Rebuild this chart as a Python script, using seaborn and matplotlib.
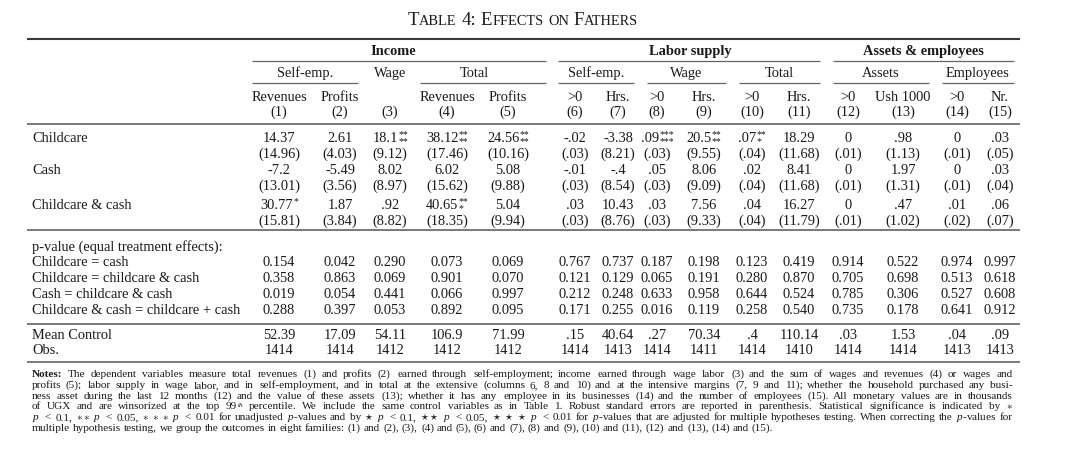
import numpy as np
import pandas as pd
import matplotlib
matplotlib.use("Agg")
import matplotlib.pyplot as plt
import seaborn as sns

# ---- table values ----
columns = ["(%d)" % i for i in range(1, 16)]
sub_headers = ["Revenues", "Profits", "", "Revenues", "Profits", ">0", "Hrs.", ">0", "Hrs.",
               ">0", "Hrs.", ">0", "Ush 1000", ">0", "Nr."]

childcare = [14.37, 2.61, 18.1, 38.12, 24.56, -.02, -3.38, .09, 20.5, .07, 18.29, 0, .98, 0, .03]
childcare_se = [14.96, 4.03, 9.12, 17.46, 10.16, .03, 8.21, .03, 9.55, .04, 11.68, .01, 1.13, .01, .05]
childcare_sup = ["", "", "**", "**", "**", "", "", "***", "**", "**", "", "", "", "", ""]
childcare_sub = ["", "", "**", "**", "**", "", "", "***", "**", "*", "", "", "", "", ""]

cash = [-7.2, -5.49, 8.02, 6.02, 5.08, -.01, -.4, .05, 8.06, .02, 8.41, 0, 1.97, 0, .03]
cash_se = [13.01, 3.56, 8.97, 15.62, 9.88, .03, 8.54, .03, 9.09, .04, 11.68, .01, 1.31, .01, .04]
cash_sup = [""] * 15
cash_sub = [""] * 15

both = [30.77, 1.87, .92, 40.65, 5.04, .03, 10.43, .03, 7.56, .04, 16.27, 0, .47, .01, .06]
both_se = [15.81, 3.84, 8.82, 18.35, 9.94, .03, 8.76, .03, 9.33, .04, 11.79, .01, 1.02, .02, .07]
both_sup = ["*", "", "", "**", "", "", "", "", "", "", "", "", "", "", ""]
both_sub = ["", "", "", "*", "", "", "", "", "", "", "", "", "", "", ""]

p_labels = ["Childcare = cash", "Childcare = childcare & cash", "Cash = childcare & cash",
            "Childcare & cash = childcare + cash"]
p_cc_cash = [0.154, 0.042, 0.290, 0.073, 0.069, 0.767, 0.737, 0.187, 0.198, 0.123, 0.419, 0.914, 0.522, 0.974, 0.997]
p_cc_both = [0.358, 0.863, 0.069, 0.901, 0.070, 0.121, 0.129, 0.065, 0.191, 0.280, 0.870, 0.705, 0.698, 0.513, 0.618]
p_cash_both = [0.019, 0.054, 0.441, 0.066, 0.997, 0.212, 0.248, 0.633, 0.958, 0.644, 0.524, 0.785, 0.306, 0.527, 0.608]
p_both_sum = [0.288, 0.397, 0.053, 0.892, 0.095, 0.171, 0.255, 0.016, 0.119, 0.258, 0.540, 0.735, 0.178, 0.641, 0.912]

mean_control = [52.39, 17.09, 54.11, 106.9, 71.99, .15, 40.64, .27, 70.34, .4, 110.14, .03, 1.53, .04, .09]
obs = [1414, 1414, 1412, 1412, 1412, 1414, 1413, 1414, 1411, 1414, 1410, 1414, 1414, 1413, 1413]

# "^th" marks the superscript in the notes
notes = [
    "Notes: The dependent variables measure total revenues (1) and profits (2) earned through self-employment; income earned through wage labor (3) and the sum of wages and revenues (4) or wages and",
    "profits (5); labor supply in wage labor, and in self-employment, and in total at the extensive (columns 6, 8 and 10) and at the intensive margins (7, 9 and 11); whether the household purchased any busi-",
    "ness asset during the last 12 months (12) and the value of these assets (13); whether it has any employee in its businesses (14) and the number of employees (15). All monetary values are in thousands",
    r"of UGX and are winsorized at the top 99^th percentile. We include the same control variables as in Table 1. Robust standard errors are reported in parenthesis. Statistical significance is indicated by $\ast$",
    r"$p$ $<$ 0.1, $\ast\ast$ $p$ $<$ 0.05, $\ast$ $\ast$ $\ast$ $p$ $<$ 0.01 for unadjusted $p$-values and by $\star$ $p$ $<$ 0.1, $\star\star$ $p$ $<$ 0.05, $\star$ $\star$ $\star$ $p$ $<$ 0.01 for $p$-values that are adjusted for multiple hypotheses testing. When correcting the $p$-values for",
    "multiple hypothesis testing, we group the outcomes in eight families: (1) and (2), (3), (4) and (5), (6) and (7), (8) and (9), (10) and (11), (12) and (13), (14) and (15).",
]

# ---- style ----
sns.set_theme(style="white")
plt.rcParams["font.family"] = ["Liberation Serif", "DejaVu Serif"]
plt.rcParams["mathtext.fontset"] = "custom"
plt.rcParams["mathtext.rm"] = "Liberation Serif"
plt.rcParams["mathtext.it"] = "Liberation Serif:italic"
plt.rcParams["mathtext.bf"] = "Liberation Serif:bold"

TXT = "#1a1a1a"
RULE = "#555555"
BODY = 10.4
NOTE = 8.1

col_x = [279, 340, 390, 447, 508, 575, 618, 657, 704, 752, 799, 848, 903, 957, 1000]
LEFT, RIGHT = 27, 1020
LABEL_X = 32

fig = plt.figure(figsize=(10.8, 4.63), dpi=100)
ax = fig.add_axes([0, 0, 1, 1])
ax.set_xlim(0, 1080)
ax.set_ylim(463, 0)
ax.axis("off")
renderer = fig.canvas.get_renderer()


def width(t):
    return t.get_window_extent(renderer).width


def fmt(v):
    s = f"{v:.2f}".rstrip("0").rstrip(".")
    if s.startswith("0."):
        s = s[1:]
    elif s.startswith("-0."):
        s = "-" + s[2:]
    return s


def hline(y, x0=LEFT, x1=RIGHT, lw=1.1, color=RULE):
    ax.plot([x0, x1], [y, y], color=color, lw=lw, solid_capstyle="butt")


def cell(x, y, s, sup="", sub=""):
    t = ax.text(x, y, s, fontsize=BODY, color=TXT, ha="left", va="baseline")
    w = width(t)
    extras = []
    if sup:
        extras.append(ax.text(0, y - 4.5, sup, fontsize=7, color=TXT, ha="left", va="baseline"))
    if sub:
        extras.append(ax.text(0, y + 2.5, sub, fontsize=7, color=TXT, ha="left", va="baseline"))
    ws = max([width(e) for e in extras]) if extras else 0
    x0 = x - (w + ws) / 2
    t.set_x(x0)
    for e in extras:
        e.set_x(x0 + w + 0.3)


def runs(parts, xc, y, gap):
    texts = []
    for s, size in parts:
        if s == " ":
            texts.append(None)
        else:
            texts.append(ax.text(0, y, s, fontsize=size, color=TXT, ha="left", va="baseline"))
    ws = [gap if t is None else width(t) for t in texts]
    x = xc - sum(ws) / 2
    for t, w in zip(texts, ws):
        if t is not None:
            t.set_x(x)
        x += w


def note_word(w, y):
    # returns list of (text, dx) pieces for one word and its total width
    if "^" in w:
        base, sup = w.split("^")
        t0 = ax.text(0, y, base, fontsize=NOTE, color=TXT, ha="left", va="baseline")
        t1 = ax.text(0, y - 2.6, sup, fontsize=5.2, color=TXT, ha="left", va="baseline",
                     fontstyle="italic")
        w0 = width(t0)
        return [(t0, 0), (t1, w0 + 0.3)], w0 + 0.3 + width(t1)
    weight = "bold" if w == "Notes:" else "normal"
    t = ax.text(0, y, w, fontsize=NOTE, color=TXT, ha="left", va="baseline", fontweight=weight)
    return [(t, 0)], width(t)


def note_line(line, y, justify=True):
    pieces, ws = [], []
    for w in line.split(" "):
        p, wd = note_word(w, y)
        pieces.append(p)
        ws.append(wd)
    if justify:
        gap = (1013 - LABEL_X - sum(ws)) / (len(ws) - 1)
    else:
        gap = 0.26 * NOTE * 100 / 72
    x = LABEL_X
    for p, w in zip(pieces, ws):
        for t, dx in p:
            t.set_x(round(x) + dx)
        x += w + gap


# ---- title ----
big, small = 13.5, 10.4
runs([("T", big), ("ABLE", small), (" ", 0), ("4:", big), (" ", 0), ("E", big), ("FFECTS", small),
      (" ", 0), ("ON", small), (" ", 0), ("F", big), ("ATHERS", small)], 523, 25, 4.8)

# ---- header ----
hline(39, lw=1.5, color="#3a3a3a")

groups = [("Income", 393, 252, 546), ("Labor supply", 690, 558, 820),
          ("Assets & employees", 923, 833, 1014)]
for name, xc, x0, x1 in groups:
    ax.text(xc, 55, name, fontsize=BODY, fontweight="bold", color=TXT, ha="center", va="baseline")
    hline(61, x0, x1, lw=0.9, color="#666666")

subgroups = [("Self-emp.", 305, 252, 358), ("Wage", 390, None, None), ("Total", 474, 420, 546),
             ("Self-emp.", 596, 558, 634), ("Wage", 686, 647, 726), ("Total", 779, 739, 820),
             ("Assets", 881, 833, 929), ("Employees", 977, 942, 1014)]
for name, xc, x0, x1 in subgroups:
    ax.text(xc, 77, name, fontsize=BODY, color=TXT, ha="center", va="baseline")
    if x0 is not None:
        hline(83, x0, x1, lw=0.9, color="#666666")

for x, h, c in zip(col_x, sub_headers, columns):
    if h:
        ax.text(x, 101, h, fontsize=BODY, color=TXT, ha="center", va="baseline")
    ax.text(x, 116, c, fontsize=BODY, color=TXT, ha="center", va="baseline")

hline(124)

# ---- coefficient rows ----
coef_rows = [("Childcare", childcare, childcare_se, childcare_sup, childcare_sub, 142),
             ("Cash", cash, cash_se, cash_sup, cash_sub, 174),
             ("Childcare & cash", both, both_se, both_sup, both_sub, 209)]
for label, vals, ses, sups, subs, y in coef_rows:
    ax.text(LABEL_X, y, label, fontsize=BODY, color=TXT, ha="left", va="baseline")
    for x, v, se, sp, sb in zip(col_x, vals, ses, sups, subs):
        cell(x, y, fmt(v), sp, sb)
        cell(x, y + 16, "(" + fmt(se) + ")")

hline(230)

# ---- p-values ----
ax.text(LABEL_X, 251, "p-value (equal treatment effects):", fontsize=BODY, color=TXT,
        ha="left", va="baseline")
p_rows = [p_cc_cash, p_cc_both, p_cash_both, p_both_sum]
for i, (label, vals) in enumerate(zip(p_labels, p_rows)):
    y = 266 + 16 * i
    ax.text(LABEL_X, y, label, fontsize=BODY, color=TXT, ha="left", va="baseline")
    for x, v in zip(col_x, vals):
        cell(x, y, f"{v:.3f}")

hline(324)

ax.text(LABEL_X, 339, "Mean Control", fontsize=BODY, color=TXT, ha="left", va="baseline")
ax.text(LABEL_X, 354, "Obs.", fontsize=BODY, color=TXT, ha="left", va="baseline")
for x, m, n in zip(col_x, mean_control, obs):
    cell(x, 339, fmt(m))
    cell(x, 354, str(n))

hline(362)

# ---- notes ----
for i, line in enumerate(notes):
    note_line(line, 377 + 10.8 * i, justify=(i < len(notes) - 1))

fig.savefig("out.png", dpi=100)
